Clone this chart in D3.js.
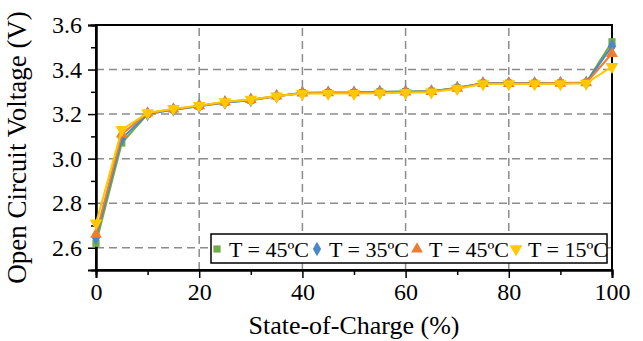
<!DOCTYPE html>
<html>
<head>
<meta charset="utf-8">
<script src="https://cdn.jsdelivr.net/npm/d3@7"></script>
</head>
<body style="margin:0; font-family: 'Liberation Serif';">
<div id="chart"></div>
<script>
var soc = [0, 5, 10, 15, 20, 25, 30, 35, 40, 45, 50, 55, 60, 65, 70, 75, 80, 85, 90, 95, 100];
var t45a = [2.62, 3.07, 3.20, 3.22, 3.235, 3.252, 3.262, 3.28, 3.296, 3.297, 3.297, 3.300, 3.301, 3.303, 3.318, 3.339, 3.339, 3.339, 3.340, 3.342, 3.525];
var t35  = [2.645, 3.09, 3.20, 3.22, 3.236, 3.252, 3.263, 3.28, 3.295, 3.296, 3.296, 3.299, 3.300, 3.302, 3.317, 3.338, 3.338, 3.338, 3.339, 3.341, 3.505];
var t45b = [2.66, 3.11, 3.205, 3.222, 3.237, 3.254, 3.265, 3.281, 3.294, 3.295, 3.295, 3.298, 3.299, 3.301, 3.316, 3.337, 3.337, 3.337, 3.338, 3.340, 3.472];
var t15  = [2.71, 3.13, 3.205, 3.224, 3.238, 3.255, 3.266, 3.281, 3.292, 3.292, 3.292, 3.294, 3.296, 3.298, 3.314, 3.335, 3.335, 3.335, 3.336, 3.338, 3.413];
var seriesNames = ["T = 45ºC", "T = 35ºC", "T = 45ºC", "T = 15ºC"];
var xTicks = [0, 20, 40, 60, 80, 100];
var yTicks = [2.6, 2.8, 3.0, 3.2, 3.4, 3.6];

var series = [
  {name: seriesNames[0], values: t45a, color: "#70ad47", symbol: d3.symbolSquare, size: 52, rot: 0},
  {name: seriesNames[1], values: t35,  color: "#4a86c8", symbol: d3.symbolDiamond, size: 60, rot: 0},
  {name: seriesNames[2], values: t45b, color: "#ed7d31", symbol: d3.symbolTriangle, size: 60, rot: 0},
  {name: seriesNames[3], values: t15,  color: "#ffc800", symbol: d3.symbolTriangle, size: 70, rot: 180}
];

var width = 643, height = 341;
var margin = {top: 25, right: 31, bottom: 71, left: 96};

var svg = d3.select("#chart").append("svg")
  .attr("width", width)
  .attr("height", height);

var x_scale = d3.scaleLinear().domain([0, 100]).range([margin.left, width - margin.right]);
var y_scale = d3.scaleLinear().domain([2.5, 3.6]).range([height - margin.bottom, margin.top]);

// grid
svg.append("g").selectAll("line").data(xTicks.filter(function(d) { return d > 0 && d < 100; }))
  .enter().append("line")
  .attr("x1", function(d) { return x_scale(d); }).attr("x2", function(d) { return x_scale(d); })
  .attr("y1", y_scale(2.5)).attr("y2", y_scale(3.6))
  .attr("stroke", "#8c8c8c").attr("stroke-width", 1.5).attr("stroke-dasharray", "8,5");
svg.append("g").selectAll("line").data(yTicks.filter(function(d) { return d < 3.6; }))
  .enter().append("line")
  .attr("x1", x_scale(0)).attr("x2", x_scale(100))
  .attr("y1", function(d) { return y_scale(d); }).attr("y2", function(d) { return y_scale(d); })
  .attr("stroke", "#8c8c8c").attr("stroke-width", 1.5).attr("stroke-dasharray", "8,5");

// frame
svg.append("rect")
  .attr("x", x_scale(0)).attr("y", y_scale(3.6))
  .attr("width", x_scale(100) - x_scale(0)).attr("height", y_scale(2.5) - y_scale(3.6))
  .attr("fill", "none").attr("stroke", "#000").attr("stroke-width", 2);

// axes
svg.append("g")
  .attr("transform", "translate(0," + y_scale(2.5) + ")")
  .call(d3.axisBottom(x_scale).tickValues(xTicks).tickSize(8).tickPadding(5));
svg.append("g")
  .attr("transform", "translate(0," + y_scale(2.5) + ")")
  .call(d3.axisBottom(x_scale).tickValues([10, 30, 50, 70, 90]).tickSize(5).tickFormat(""));
svg.append("g")
  .attr("transform", "translate(" + x_scale(0) + ",0)")
  .call(d3.axisLeft(y_scale).tickValues(yTicks).tickSize(8).tickPadding(6).tickFormat(d3.format(".1f")));
svg.append("g")
  .attr("transform", "translate(" + x_scale(0) + ",0)")
  .call(d3.axisLeft(y_scale).tickValues([2.7, 2.9, 3.1, 3.3, 3.5]).tickSize(5).tickFormat(""));

// drop d3's default axis font so the page font is inherited
svg.selectAll("g").attr("font-family", null).attr("font-size", null);
svg.selectAll(".domain").attr("stroke", "#000").attr("stroke-width", 2);
svg.selectAll(".tick line").attr("stroke", "#000").attr("stroke-width", 1.5);
svg.selectAll(".tick text").attr("font-size", 24).attr("fill", "#000");

// axis titles
svg.append("text")
  .attr("x", (x_scale(0) + x_scale(100)) / 2).attr("y", 334)
  .attr("text-anchor", "middle")
  .attr("font-size", 26)
  .text("State-of-Charge (%)");
svg.append("text")
  .attr("transform", "translate(26," + (y_scale(2.5) + y_scale(3.6)) / 2 + ") rotate(-90)")
  .attr("text-anchor", "middle")
  .attr("font-size", 27)
  .text("Open Circuit Voltage (V)");

// lines and markers
var line = d3.line()
  .x(function(d, i) { return x_scale(soc[i]); })
  .y(function(d) { return y_scale(d); });

series.forEach(function(s) {
  svg.append("path")
    .datum(s.values)
    .attr("fill", "none")
    .attr("stroke", s.color)
    .attr("stroke-width", 2)
    .attr("d", line);
  svg.append("g").selectAll("path").data(s.values).enter().append("path")
    .attr("d", d3.symbol().type(s.symbol).size(s.size))
    .attr("transform", function(d, i) { return "translate(" + x_scale(soc[i]) + "," + y_scale(d) + ") rotate(" + s.rot + ")"; })
    .attr("fill", s.color);
});

// legend
var legend = svg.append("g");
legend.append("rect")
  .attr("x", 211).attr("y", 234).attr("width", 396).attr("height", 29)
  .attr("fill", "#fff").attr("stroke", "#000").attr("stroke-width", 1.5);
var legX = [217, 317, 417, 516];
series.forEach(function(s, i) {
  legend.append("path")
    .attr("d", d3.symbol().type(s.symbol).size(s.size))
    .attr("transform", "translate(" + legX[i] + ",249) rotate(" + s.rot + ")")
    .attr("fill", s.color);
  legend.append("text")
    .attr("x", legX[i] + 12).attr("y", 257)
    .attr("font-size", 22)
    .text(s.name);
});
</script>
</body>
</html>
